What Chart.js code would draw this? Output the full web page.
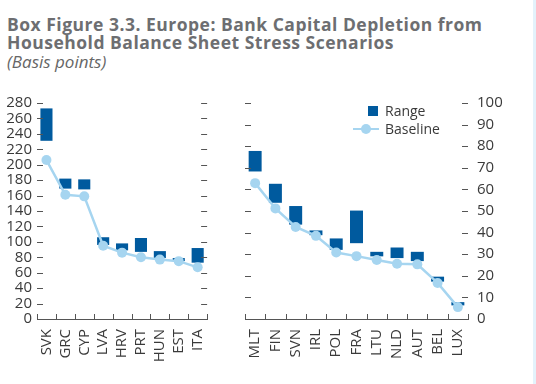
<!DOCTYPE html>
<html>
<head>
<meta charset="utf-8">
<script src="https://cdn.jsdelivr.net/npm/chart.js@4.4.1/dist/chart.umd.min.js"></script>
<style>
  body { margin: 0; background: #fff; }
  #wrap { position: relative; width: 536px; height: 384px; overflow: hidden; }
  #title { position: absolute; left: 7px; top: 16px; font-family: "Open Sans", sans-serif; font-weight: bold;
           font-size: 17.5px; line-height: 17.5px; letter-spacing: 0.5px; color: #6d6e71; white-space: nowrap; }
  #sub { position: absolute; left: 7px; top: 50px; font-family: "Open Sans", sans-serif; font-style: italic;
         font-size: 17px; color: #666; }
  canvas { position: absolute; top: 0; }
  #leftCanvas { left: 0; }
  #rightCanvas { left: 225px; }
  .leg { position: absolute; font-family: "Open Sans", sans-serif; font-size: 14px; color: #3a3a3a; }
  #strip { position: absolute; left: 533px; top: 0; width: 3px; height: 384px; background: #e3f2fb; }
</style>
</head>
<body>
<div id="wrap">
  <div id="title">Box Figure 3.3. Europe: Bank Capital Depletion from<br>Household Balance Sheet Stress Scenarios</div>
  <div id="sub">(Basis points)</div>
  <canvas id="leftCanvas" width="226" height="384"></canvas>
  <canvas id="rightCanvas" width="311" height="384"></canvas>
  <div style="position:absolute;left:368px;top:106px;width:10px;height:10px;background:#005a9e"></div>
  <div class="leg" style="left:385px;top:101px">Range</div>
  <div style="position:absolute;left:353px;top:128px;width:26px;height:2px;background:#a6d5f0"></div>
  <div style="position:absolute;left:361px;top:124px;width:10px;height:10px;border-radius:5px;background:#a6d5f0"></div>
  <div class="leg" style="left:385px;top:119px">Baseline</div>
  <div id="strip"></div>
</div>
<script>
// left panel, left axis (0-280)
const leftCats = ['SVK', 'GRC', 'CYP', 'LVA', 'HRV', 'PRT', 'HUN', 'EST', 'ITA'];
const leftLow  = [231, 169, 168, 96, 89, 87, 79, 75, 73];
const leftHigh = [273, 182, 181, 106, 98, 105, 88, 79, 92];
const leftBase = [206, 161, 159, 95, 86, 80, 77, 75, 67];

// right panel, right axis (0-100)
const rightCats = ['MLT', 'FIN', 'SVN', 'IRL', 'POL', 'FRA', 'LTU', 'NLD', 'AUT', 'BEL', 'LUX'];
const rightLow  = [68.3, 53.8, 43.7, 38.8, 32.0, 35.1, 29.0, 28.2, 26.8, 17.3, 6.3];
const rightHigh = [77.8, 62.6, 52.3, 41.0, 37.3, 50.2, 31.1, 33.1, 31.1, 19.6, 7.8];
const rightBase = [62.9, 51.2, 42.6, 38.5, 30.8, 29.1, 27.3, 25.6, 25.3, 16.7, 5.5];

const barColor = '#005a9e';
const lineColor = '#a6d5f0';
const textColor = '#3a3a3a';
const tickFont = { family: 'Open Sans', size: 15 };

// tick marks point inward: dashes on both sides, small marks above x axis
const inwardTicks = {
  id: 'inwardTicks',
  afterDatasetsDraw(chart) {
    const { ctx, chartArea: a, scales: { x, y } } = chart;
    ctx.save();
    ctx.strokeStyle = '#555';
    ctx.lineWidth = 1;
    ctx.beginPath();
    y.ticks.forEach(t => {
      if (t.value === 0) return;
      const py = Math.round(y.getPixelForValue(t.value)) + 0.5;
      ctx.moveTo(a.left, py); ctx.lineTo(a.left + 6, py);
      ctx.moveTo(a.right - 6, py); ctx.lineTo(a.right, py);
    });
    for (let i = 0; i <= x.ticks.length; i++) {
      const px = Math.round(x.getPixelForValue(i - 0.5)) + 0.5;
      ctx.moveTo(px, a.bottom); ctx.lineTo(px, a.bottom - 5);
    }
    ctx.stroke();
    ctx.restore();
  }
};

function makeChart(id, cats, low, high, base, max, step, side, padding, yWidth) {
  const ctx = document.getElementById(id).getContext('2d');
  return new Chart(ctx, {
    type: 'bar',
    data: {
      labels: cats,
      datasets: [{
        type: 'line',
        label: 'Baseline',
        data: base,
        borderColor: lineColor,
        backgroundColor: lineColor,
        borderWidth: 2.5,
        pointRadius: 5,
        pointBorderWidth: 0,
        pointBackgroundColor: lineColor,
        order: 0
      }, {
        label: 'Range',
        data: low.map((l, i) => [l, high[i]]),
        backgroundColor: barColor,
        barPercentage: 0.64,
        categoryPercentage: 1,
        order: 1
      }]
    },
    options: {
      responsive: false,
      animation: false,
      layout: { padding: padding },
      plugins: { legend: { display: false }, tooltip: { enabled: false } },
      scales: {
        x: {
          grid: { display: false, drawTicks: false },
          border: { display: true, color: '#555', width: 1 },
          ticks: { color: textColor, font: tickFont, minRotation: 90, maxRotation: 90, padding: 10, autoSkip: false },
          afterFit: s => { s.height = 65; }
        },
        y: {
          position: side,
          min: 0,
          max: max,
          grid: { display: false, drawTicks: false },
          border: { display: false },
          ticks: { stepSize: step, color: textColor, font: tickFont, autoSkip: false,
                   padding: side === 'left' ? 5 : 9 },
          afterFit: s => { s.width = yWidth; }
        }
      }
    },
    plugins: [inwardTicks]
  });
}

makeChart('leftCanvas', leftCats, leftLow, leftHigh, leftBase, 280, 20, 'left',
  { top: 103, right: 6, bottom: 0, left: 0 }, 37);
makeChart('rightCanvas', rightCats, rightLow, rightHigh, rightBase, 100, 10, 'right',
  { top: 103, right: 0, bottom: 0, left: 20 }, 68);
</script>
</body>
</html>
